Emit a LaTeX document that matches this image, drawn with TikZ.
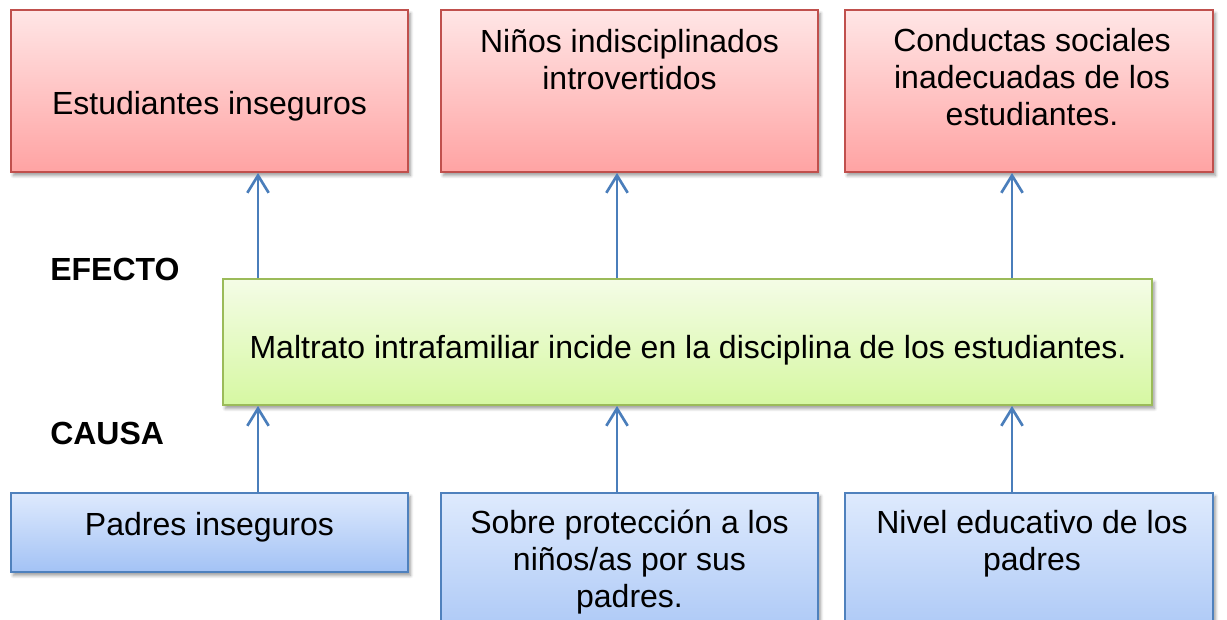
\documentclass[tikz,border=0pt]{standalone}
\usepackage{fontspec}
\setmainfont{Liberation Sans}
\usetikzlibrary{arrows.meta,shadows.blur}
\definecolor{redline}{HTML}{C0504D}
\definecolor{redtop}{HTML}{FFE6E6}
\definecolor{redbot}{HTML}{FFA3A3}
\definecolor{grnline}{HTML}{9BBB59}
\definecolor{grntop}{HTML}{F4FCE6}
\definecolor{grnbot}{HTML}{D6F8A2}
\definecolor{bluline}{HTML}{4F81BD}
\definecolor{blutop}{HTML}{DEEAFD}
\definecolor{blubot}{HTML}{A3C2F5}
\definecolor{arrcol}{HTML}{4A7EBB}
\tikzset{
  boxbase/.style={rectangle, inner sep=0pt, line width=1.4pt, shading=axis, shading angle=0,
    blur shadow={shadow xshift=1.8pt, shadow yshift=-2.6pt, shadow blur radius=2.4pt, shadow blur steps=6, shadow opacity=40}},
  effbox/.style={boxbase, draw=redline, top color=redtop, bottom color=redbot},
  mainbox/.style={boxbase, draw=grnline, top color=grntop, bottom color=grnbot},
  causebox/.style={boxbase, draw=bluline, top color=blutop, bottom color=blubot},
  lbl/.style={inner sep=0pt, align=center, font=\fontsize{24}{27.75}\selectfont},
  sidelbl/.style={inner sep=0pt, anchor=base west, font=\fontsize{24}{27.75}\selectfont\bfseries},
  arr/.style={draw=arrcol, line width=2pt, -{Straight Barb[length=13pt,width=16pt,line width=2pt]}}
}
\begin{document}
\begin{tikzpicture}[x=0.75pt,y=-0.75pt]
\useasboundingbox (0,0) rectangle (1227,620);
\clip (0,0) rectangle (1227,620);
% effect boxes
\node[effbox, minimum width=297.75pt, minimum height=121.5pt] (e1) at (209.5,91) {};
\node[effbox, minimum width=282.75pt, minimum height=121.5pt] (e2) at (629.5,91) {};
\node[effbox, minimum width=276pt, minimum height=121.5pt] (e3) at (1029,91) {};
% main box
\node[mainbox, minimum width=696.75pt, minimum height=94.5pt] (m) at (687.5,342) {};
% cause boxes
\node[causebox, minimum width=297.75pt, minimum height=59.25pt] (c1) at (209.5,532.5) {};
\node[causebox, minimum width=282.75pt, minimum height=125.25pt] (c2) at (629.5,576.5) {};
\node[causebox, minimum width=276pt, minimum height=125.25pt] (c3) at (1029,576.5) {};
% labels
\node[lbl, anchor=base] (t1) at (209.5,115) {Estudiantes inseguros};
\node[lbl, anchor=north] (t2) at (629.5,29) {Niños indisciplinados\\introvertidos};
\node[lbl, anchor=north] (t3) at (1032,28) {Conductas sociales\\inadecuadas de los\\estudiantes.};
\node[lbl, anchor=base] (tm) at (688,358) {Maltrato intrafamiliar incide en la disciplina de los estudiantes.};
\node[lbl, anchor=base] (b1) at (209.5,535) {Padres inseguros};
\node[lbl, anchor=north] (b2) at (629.5,510) {Sobre protección a los\\niños/as por sus\\padres.};
\node[lbl, anchor=north] (b3) at (1032,510) {Nivel educativo de los\\padres};
\node[sidelbl] (ef) at (50,280) {EFECTO};
\node[sidelbl] (ca) at (50,444) {CAUSA};
% arrow columns
\coordinate (x1) at (258,0);
\coordinate (x2) at (617,0);
\coordinate (x3) at (1012,0);
\draw[arr] (m.north -| x1) -- (e1.south -| x1);
\draw[arr] (m.north -| x2) -- (e2.south -| x2);
\draw[arr] (m.north -| x3) -- (e3.south -| x3);
\draw[arr] (c1.north -| x1) -- (m.south -| x1);
\draw[arr] (c2.north -| x2) -- (m.south -| x2);
\draw[arr] (c3.north -| x3) -- (m.south -| x3);
\end{tikzpicture}
\end{document}
